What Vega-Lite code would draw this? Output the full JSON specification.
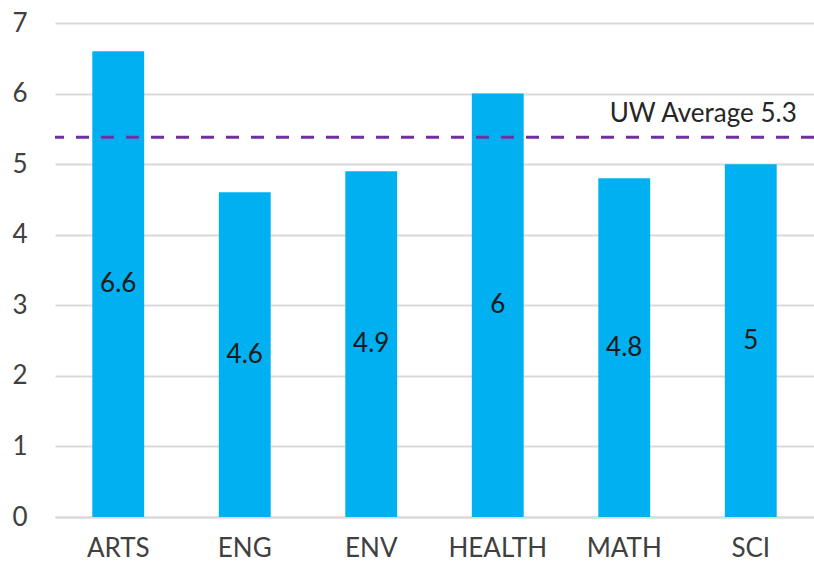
{
  "$schema": "https://vega.github.io/schema/vega-lite/v6.json",
  "width": 759,
  "height": 494,
  "autosize": {"type": "none"},
  "padding": {"left": 55, "top": 23, "right": 0, "bottom": 52},
  "background": "white",
  "config": {
    "view": {"stroke": null},
    "font": "Lato",
    "axis": {"labelFont": "Lato", "labelColor": "#404040", "labelFontSize": 26},
    "axisY": {"title": null, "values": [0,1,2,3,4,5,6,7], "labelOverlap": false, "domain": false, "ticks": false, "gridColor": "#d9d9d9", "gridWidth": 2, "labelPadding": 28}
  },
  "datasets": {
    "bars": [
      {"faculty": "ARTS", "value": 6.6},
      {"faculty": "ENG", "value": 4.6},
      {"faculty": "ENV", "value": 4.9},
      {"faculty": "HEALTH", "value": 6.0},
      {"faculty": "MATH", "value": 4.8},
      {"faculty": "SCI", "value": 5.0}
    ],
    "avg": [
      {"faculty": "SCI", "value": 5.38, "label": "UW Average 5.3"}
    ]
  },
  "layer": [
    {
      "data": {"name": "bars"},
      "mark": {"type": "bar", "color": "#00B0F0"},
      "encoding": {
        "x": {
          "field": "faculty", "type": "nominal", "sort": null,
          "scale": {"paddingInner": 0.59, "paddingOuter": 0.295},
          "axis": {"title": null, "labelAngle": 0, "ticks": false, "domainColor": "#d9d9d9", "domainWidth": 2, "labelPadding": 18, "labelBaseline": "top"}
        },
        "y": {
          "field": "value", "type": "quantitative", "title": null,
          "scale": {"domain": [0, 7], "nice": false},
          "axis": {"title": null, "values": [0,1,2,3,4,5,6,7], "labelOverlap": false}
        }
      }
    },
    {
      "data": {"name": "bars"},
      "transform": [{"calculate": "datum.value / 2", "as": "mid"}],
      "mark": {"type": "text", "fontSize": 26, "color": "#1a1a1a", "baseline": "middle"},
      "encoding": {
        "x": {"field": "faculty", "type": "nominal", "sort": null},
        "y": {"field": "mid", "type": "quantitative", "title": null, "axis": {"title": null, "values": [0,1,2,3,4,5,6,7], "labelOverlap": false}},
        "text": {"field": "value", "type": "quantitative", "format": "~g"}
      }
    },
    {
      "data": {"name": "avg"},
      "mark": {"type": "rule", "color": "#7030A0", "strokeWidth": 3, "strokeDash": [13, 12]},
      "encoding": {
        "y": {"field": "value", "type": "quantitative", "title": null, "axis": {"title": null, "values": [0,1,2,3,4,5,6,7], "labelOverlap": false}}
      }
    },
    {
      "data": {"name": "avg"},
      "mark": {"type": "text", "fontSize": 26, "color": "#262626", "align": "right", "baseline": "alphabetic", "dx": 46, "dy": -15},
      "encoding": {
        "x": {"field": "faculty", "type": "nominal", "sort": null},
        "y": {"field": "value", "type": "quantitative", "title": null, "axis": {"title": null, "values": [0,1,2,3,4,5,6,7], "labelOverlap": false}},
        "text": {"field": "label"}
      }
    }
  ]
}
